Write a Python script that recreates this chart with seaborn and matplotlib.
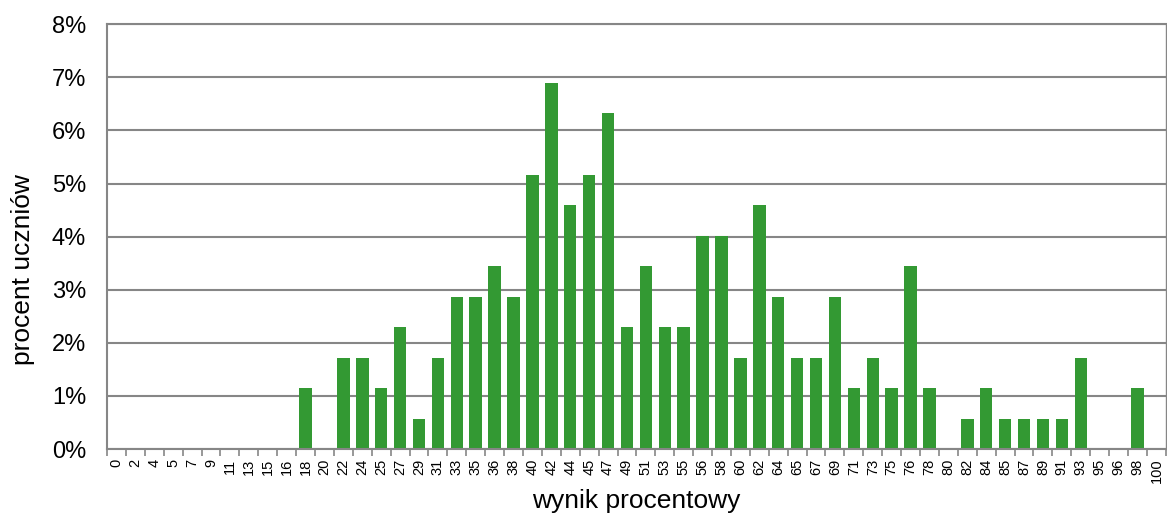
import numpy as np
import pandas as pd
import matplotlib
matplotlib.use("Agg")
import matplotlib.pyplot as plt
import seaborn as sns

# wynik procentowy (kategorie na osi X)
wyniki = [0, 2, 4, 5, 7, 9, 11, 13, 15, 16, 18, 20, 22, 24, 25, 27, 29, 31, 33, 35,
          36, 38, 40, 42, 44, 45, 47, 49, 51, 53, 55, 56, 58, 60, 62, 64, 65, 67, 69, 71,
          73, 75, 76, 78, 80, 82, 84, 85, 87, 89, 91, 93, 95, 96, 98, 100]

# procent uczniów
procent = [0, 0, 0, 0, 0, 0, 0, 0, 0, 0, 1.15, 0, 1.72, 1.72, 1.15, 2.30, 0.57, 1.72, 2.87, 2.87,
           3.45, 2.87, 5.17, 6.90, 4.60, 5.17, 6.32, 2.30, 3.45, 2.30, 2.30, 4.02, 4.02, 1.72, 4.60, 2.87, 1.72, 1.72, 2.87, 1.15,
           1.72, 1.15, 3.45, 1.15, 0, 0.57, 1.15, 0.57, 0.57, 0.57, 0.57, 1.72, 0, 0, 1.15, 0]

df = pd.DataFrame({"wynik": [str(w) for w in wyniki], "procent": procent})

sns.set_style("white")
plt.rcParams['font.family'] = ['Liberation Sans', 'DejaVu Sans']
plt.rcParams['text.color'] = 'black'
plt.rcParams['axes.labelcolor'] = 'black'
plt.rcParams['xtick.color'] = 'black'
plt.rcParams['ytick.color'] = 'black'

fig = plt.figure(figsize=(11.67, 5.15), dpi=100)
ax = fig.add_axes([0.0917, 0.128, 0.9073, 0.825])

sns.barplot(data=df, x="wynik", y="procent", color="#339933", saturation=1,
            width=0.66, linewidth=0, ax=ax)

grey = "#868686"
ax.set_ylim(0, 8)
ax.set_yticks(range(0, 9))
ax.set_yticklabels([f"{i}%" for i in range(0, 9)], fontsize=17)
ax.yaxis.grid(True, color=grey, linewidth=1.5)
ax.set_axisbelow(True)
ax.tick_params(axis="y", length=0, pad=15)

n = len(wyniki)
ax.set_xlim(-0.5, n - 0.5)
ax.set_xticks(range(n))
ax.set_xticklabels(df["wynik"], rotation=90, fontsize=10.5)
ax.tick_params(axis="x", which="major", length=0, pad=7)
ax.set_xticks(np.arange(-0.5, n, 1), minor=True)
ax.tick_params(axis="x", which="minor", bottom=True, length=5, width=1.2,
               color=grey, direction="out")

for side in ["left", "bottom", "right", "top"]:
    ax.spines[side].set_color(grey)
    ax.spines[side].set_linewidth(1.5)
ax.spines["right"].set_linewidth(1.0)

ax.set_xlabel("wynik procentowy", fontsize=19, labelpad=4)
ax.set_ylabel("procent uczniów", fontsize=19)
ax.yaxis.set_label_coords(-0.068, 0.4235)

fig.savefig("out.png", dpi=100)
